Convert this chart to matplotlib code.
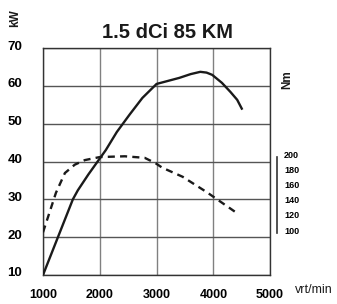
#!/usr/bin/env python3
"""
Power and torque curve for the 1.5 dCi 85 KM engine
"""

import matplotlib
matplotlib.use('Agg')
import matplotlib.pyplot as plt
import matplotlib.transforms as mtransforms

# Power curve (kW)
power_rpm = [1000, 1263, 1526, 1614, 1800, 2000, 2105, 2300, 2525, 2750, 3000, 3200,
             3400, 3600, 3770, 3880, 3980, 4150, 4300, 4420, 4510]
power_kw = [10, 20, 30, 32.4, 36.6, 40.8, 43, 47.8, 52.4, 56.8, 60.5, 61.3,
            62.1, 63.1, 63.7, 63.5, 62.9, 60.8, 58.4, 56.3, 53.7]

# Torque curve (Nm)
torque_rpm = [1000, 1088, 1228, 1386, 1560, 1737, 2000, 2440, 2790, 2980, 3100,
              3460, 3880, 4420]
torque_nm = [97, 117, 149, 175, 186, 192, 196, 197, 195, 188, 182, 170, 150, 122]

x_ticks = [1000, 2000, 3000, 4000, 5000]
kw_ticks = [10, 20, 30, 40, 50, 60, 70]
nm_ticks = [100, 120, 140, 160, 180, 200]

plt.rcParams['font.family'] = ['Liberation Sans', 'DejaVu Sans']
plt.rcParams['font.weight'] = 'bold'   # everything bold except the rpm unit

fig = plt.figure(figsize=(3.37, 3.04), dpi=100)
ax = fig.add_axes([0.1276, 0.0954, 0.674, 0.7467])

ax.set_xlim(1000, 5000)
ax.set_ylim(10, 70)
ax.set_xticks(x_ticks)
ax.set_yticks(kw_ticks)
ax.tick_params(length=0)
ax.tick_params(axis='x', pad=10, labelsize=9)
ax.tick_params(axis='y', pad=15, labelsize=9.5)

# vertical grid is a bit lighter than the horizontal one
ax.grid(True, axis='x', color='#808080', linewidth=1.0)
ax.grid(True, axis='y', color='#555555', linewidth=1.0)
for sp in ax.spines.values():
    sp.set_color('#333333')
    sp.set_linewidth(1.0)

ax.plot(power_rpm, power_kw, color='#1a1a1a', linewidth=1.7,
        solid_capstyle='butt', zorder=3)

# torque on its own scale
ax2 = ax.twinx()
ax2.set_ylim(40.8, 339.5)
ax2.set_yticks(nm_ticks)
ax2.tick_params(length=0, pad=5, labelsize=6.5)
for name in ['top', 'left', 'bottom']:
    ax2.spines[name].set_visible(False)
ax2.spines['right'].set_position(('outward', 5))
ax2.spines['right'].set_bounds(96, 196)
ax2.spines['right'].set_color('#333333')
ax2.spines['right'].set_linewidth(1.2)
ax2.plot(torque_rpm, torque_nm, color='#1a1a1a', linewidth=1.7,
         linestyle=(0, (3, 2.2)), zorder=3)

# y labels sit a little above their grid line in the original
fig.canvas.draw()
offset = mtransforms.ScaledTranslation(0, 3 / 100, fig.dpi_scale_trans)
for lab in ax.get_yticklabels():
    lab.set_transform(lab.get_transform() + offset)

fig.text(0.497, 0.893, '1.5 dCi 85 KM', ha='center', va='center',
         fontsize=14.5, color='#1a1a1a')
fig.text(0.045, 0.94, 'kW', rotation=90, ha='center', va='center',
         fontsize=8.5, color='#1a1a1a')
fig.text(0.852, 0.737, 'Nm', rotation=90, ha='center', va='center',
         fontsize=8.5, color='#1a1a1a')
fig.text(0.875, 0.045, 'vrt/min', ha='left', va='center',
         fontsize=9, fontweight='normal', color='#1a1a1a')

plt.savefig('out.png', dpi=100)
